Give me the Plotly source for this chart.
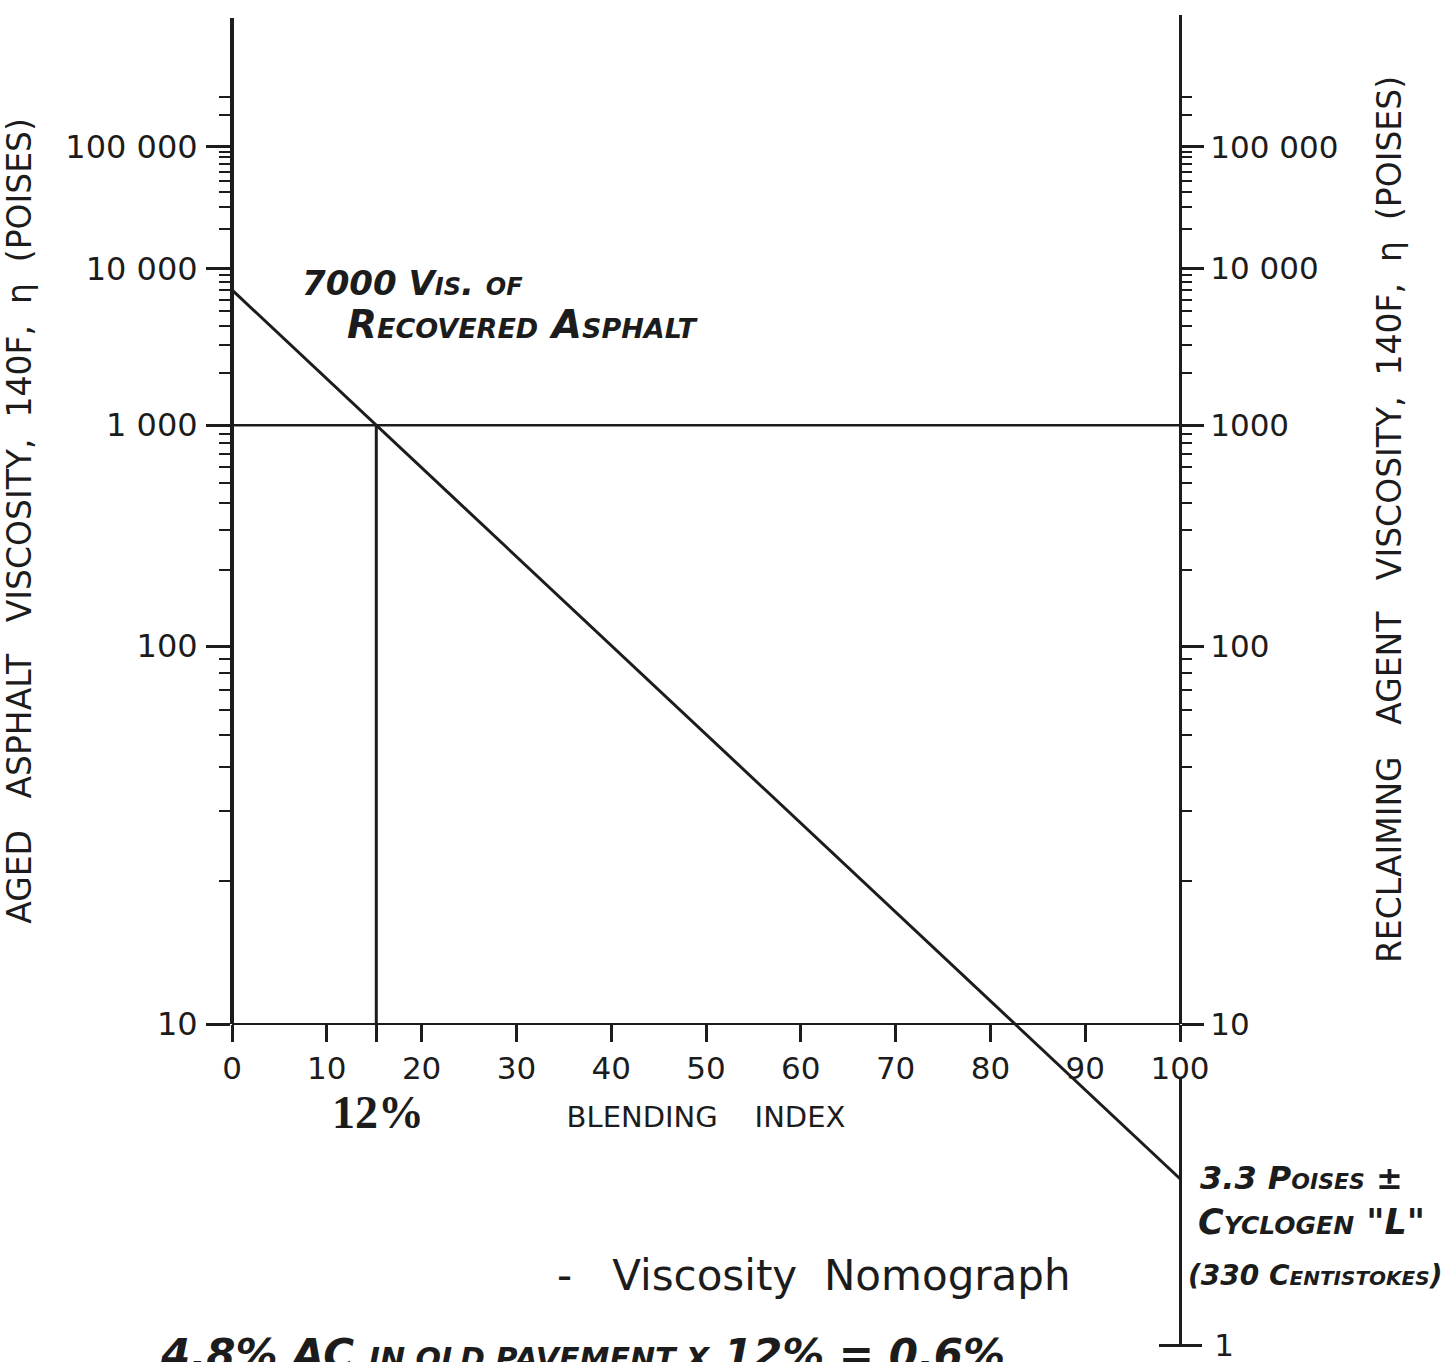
import numpy as np
import plotly.graph_objects as go

# ---------------- data ----------------
aged_asphalt_visc = 7000      # poises, recovered asphalt (left scale)
reclaiming_agent_visc = 3.3   # poises, Cyclogen "L" (right scale)
target_visc = 1000            # poises, target blend viscosity
bi_ticks = [0, 10, 20, 30, 40, 50, 60, 70, 80, 90, 100]
visc_major = [100000, 10000, 1000, 100, 10]
left_major_text = ["100 000", "10 000", "1 000", "100", "10"]
right_major_text = ["100 000", "10 000", "1000", "100", "10"]
minor_mult = [2, 3, 4, 5, 6, 7, 8, 9]
minor_decades = [10, 100, 1000, 10000]
minor_extra = [200000, 300000]
low_tick_vals = [1]
low_tick_text = ["1"]

# ---------------- scale (log-log viscosity nomograph) ----------------
LOW_SLOPE = 0.256   # hand-extended scale below 10 poises


def sc(v):
    v = float(v)
    if v >= 10:
        return np.log10(np.log10(v))
    return LOW_SLOPE * (np.log10(v) - 1.0)


W, H = 1455, 1362
XL, XR = 232, 1180
Y0 = 1024.0   # pixel row of viscosity 10
K = 1255.0    # pixels per log-log unit


def frac(py):
    return 1.0 - py / H


def s_at(py):
    return (Y0 - py) / K


def xp(px):
    return (px - XL) / (XR - XL)


minor_vals = [sc(m * d) for d in minor_decades for m in minor_mult] + [sc(v) for v in minor_extra]

# intersection of the blend line with the target viscosity
s_a, s_r, s_t = sc(aged_asphalt_visc), sc(reclaiming_agent_visc), sc(target_visc)
bi_int = 100.0 * (s_a - s_t) / (s_a - s_r)

INK = "#1c1c1c"
FONT = "DejaVu Sans"
SP2 = "&nbsp;&nbsp;"
SP3 = "&nbsp;&nbsp;&nbsp;"

fig = go.Figure()
# empty traces so that each scale axis is drawn
for ax in ["y", "y2", "y3"]:
    fig.add_trace(go.Scatter(x=[], y=[], yaxis=ax, xaxis="x", showlegend=False, hoverinfo="skip"))

fig.add_trace(go.Scatter(x=[0, 100], y=[s_a, s_r], mode="lines",
                         line=dict(color=INK, width=3), yaxis="y4", showlegend=False))
fig.add_trace(go.Scatter(x=[0, 100], y=[s_t, s_t], mode="lines",
                         line=dict(color=INK, width=2.5), yaxis="y4", showlegend=False))
fig.add_trace(go.Scatter(x=[bi_int, bi_int], y=[s_t, sc(10)], mode="lines",
                         line=dict(color=INK, width=3), yaxis="y4", showlegend=False))

y_top_left = s_at(18)
y_top_right = s_at(15)
py_one = Y0 - K * sc(1)
py_low_end = py_one + 2

axis_common = dict(showgrid=False, zeroline=False, showline=True, linecolor=INK,
                   tickcolor=INK, tickmode="array", automargin=False)

left_title = SP3.join(["AGED", "ASPHALT", "VISCOSITY,"]) + SP2 + SP2.join(["140F,", "η", "(POISES)"])
right_title = SP3.join(["RECLAIMING", "AGENT", "VISCOSITY,"]) + SP2 + SP2.join(["140F,", "η", "(POISES)"])

fig.update_layout(
    width=W, height=H,
    margin=dict(l=XL, r=W - XR, t=0, b=0),
    paper_bgcolor="white", plot_bgcolor="rgba(0,0,0,0)",
    font=dict(family=FONT, color=INK),
    showlegend=False,
    xaxis=dict(
        **axis_common,
        range=[0, 100], domain=[0, 1], anchor="free", position=frac(Y0),
        linewidth=2, ticks="outside", ticklen=17, tickwidth=3,
        tickvals=bi_ticks + [bi_int], ticktext=[str(t) for t in bi_ticks] + [""],
        tickfont=dict(size=31, family=FONT, color=INK),
        title=dict(text="BLENDING" + SP3 + "&nbsp;INDEX", font=dict(size=29, family=FONT, color=INK), standoff=20),
    ),
    yaxis=dict(
        **axis_common,
        range=[0, y_top_left], domain=[frac(Y0), frac(18)], anchor="free", position=0, side="left",
        linewidth=4, ticks="outside", ticklen=24, tickwidth=2.5,
        tickvals=[sc(v) for v in visc_major], ticktext=left_major_text,
        tickfont=dict(size=32, family=FONT, color=INK), ticklabelstandoff=2,
        minor=dict(tickvals=minor_vals, ticks="outside", ticklen=11, tickwidth=2, tickcolor=INK),
        title=dict(text=left_title, font=dict(size=33, family=FONT, color=INK), standoff=26),
    ),
    yaxis2=dict(
        **axis_common,
        range=[0, y_top_right], domain=[frac(Y0), frac(15)], anchor="free", position=1, side="right",
        linewidth=3, ticks="outside", ticklen=22, tickwidth=2.5,
        tickvals=[sc(v) for v in visc_major], ticktext=right_major_text,
        tickfont=dict(size=31, family=FONT, color=INK), ticklabelstandoff=0,
        minor=dict(tickvals=minor_vals, ticks="outside", ticklen=10, tickwidth=2, tickcolor=INK),
        title=dict(text=right_title, font=dict(size=33, family=FONT, color=INK), standoff=40),
    ),
    yaxis3=dict(
        **axis_common,
        range=[s_at(py_low_end), s_at(1078)], domain=[frac(py_low_end), frac(1078)],
        anchor="free", position=1, side="right",
        linewidth=3, ticks="inside", ticklen=20, tickwidth=3,
        tickvals=[sc(v) for v in low_tick_vals], ticktext=low_tick_text,
        tickfont=dict(size=31, family=FONT, color=INK), ticklabelstandoff=26,
        ticklabeloverflow="allow",
        minor=dict(tickvals=[sc(v) for v in low_tick_vals], ticks="outside", ticklen=20, tickwidth=3, tickcolor=INK),
    ),
    yaxis4=dict(range=[s_at(H), s_at(0)], domain=[0, 1], anchor="x", visible=False),
)

hand = dict(family=FONT, color=INK, style="italic", variant="small-caps", weight=600)
ann = [
    dict(text="7000 Vis. of", x=xp(300), y=frac(283), size=34),
    dict(text="Recovered Asphalt", x=xp(345), y=frac(325), size=39),
    dict(text="3.3 Poises ±", x=xp(1198), y=frac(1178), size=32),
    dict(text="Cyclogen \"L\"", x=xp(1196), y=frac(1222), size=35),
    dict(text="(330 Centistokes)", x=xp(1186), y=frac(1275), size=28),
]
for a in ann:
    fig.add_annotation(text=a["text"], x=a["x"], y=a["y"], xref="paper", yref="paper",
                       xanchor="left", yanchor="middle", showarrow=False,
                       font=dict(size=a["size"], **hand))

# partly cut-off handwritten note at the bottom edge (as in the scan)
fig.add_annotation(text="4.8% AC <span style='font-size:30px'>IN OLD PAVEMENT X</span> 12% = 0.6%",
                   x=xp(158), y=frac(1354), xref="paper", yref="paper",
                   xanchor="left", yanchor="middle", showarrow=False,
                   font=dict(size=42, family=FONT, color=INK, style="italic", weight=600))

fig.add_annotation(text="<b>12%</b>", x=xp(378), y=frac(1112), xref="paper", yref="paper",
                   xanchor="center", yanchor="middle",
                   showarrow=False, font=dict(size=46, family="Liberation Serif", color=INK))
fig.add_annotation(text="-" + SP3 + "Viscosity" + SP2 + "Nomograph", x=xp(555), y=frac(1275),
                   xref="paper", yref="paper", xanchor="left", yanchor="middle", showarrow=False,
                   font=dict(size=42, family=FONT, color=INK))

fig.write_html("out.html", config={"displayModeBar": False},
               post_script="document.body.style.margin='0';document.body.style.overflow='hidden';")
